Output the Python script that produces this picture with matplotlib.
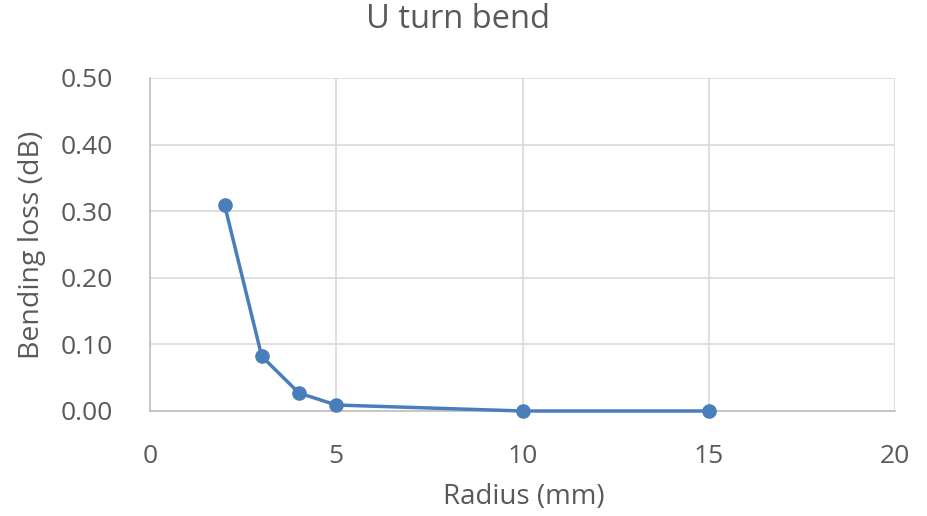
import matplotlib
matplotlib.use("Agg")
import matplotlib.pyplot as plt

radius = [2, 3, 4, 5, 10, 15]
loss = [0.31, 0.082, 0.027, 0.009, 0.0, 0.0]
xticks = [0, 5, 10, 15, 20]
yticks = [0.0, 0.1, 0.2, 0.3, 0.4, 0.5]

plt.rcParams['font.family'] = ['Open Sans', 'DejaVu Sans']
gray = '#595959'
W, H = 927, 516

fig = plt.figure(figsize=(W/100, H/100), dpi=100)
ax = fig.add_axes([150/W, 1-411/H, (895-150)/W, (411-78)/H])
ax.plot(radius, loss, color='#4a7ebb', lw=2.5, marker='o', ms=9.5, zorder=3, clip_on=False)
ax.set_xlim(0, 20)
ax.set_ylim(0, 0.5)
ax.set_xticks(xticks)
ax.set_yticks(yticks)
ax.set_yticklabels([f"{v:.2f}" for v in yticks])
ax.grid(True, color='#d9d9d9', lw=1.2)
ax.set_axisbelow(True)
for s in ['top', 'right']:
    ax.spines[s].set_visible(False)
for s in ['left', 'bottom']:
    ax.spines[s].set_color('#bfbfbf')
    ax.spines[s].set_linewidth(1.2)
ax.tick_params(length=0, labelsize=19, colors=gray)
ax.tick_params(axis='x', pad=24)
ax.tick_params(axis='y', pad=27)
ax.set_xlabel('Radius (mm)', fontsize=20, color=gray, va='center')
ax.xaxis.set_label_coords(524/W, 1-497/H, transform=fig.transFigure)
ax.set_ylabel('Bending loss (dB)', fontsize=20.5, color=gray, va='center')
ax.yaxis.set_label_coords(32/W, 1-245/H, transform=fig.transFigure)
fig.text(458/W, 1-19/H, 'U turn bend', fontsize=23.5, color=gray, ha='center', va='center')
fig.savefig('out.png', dpi=100, facecolor='white')
